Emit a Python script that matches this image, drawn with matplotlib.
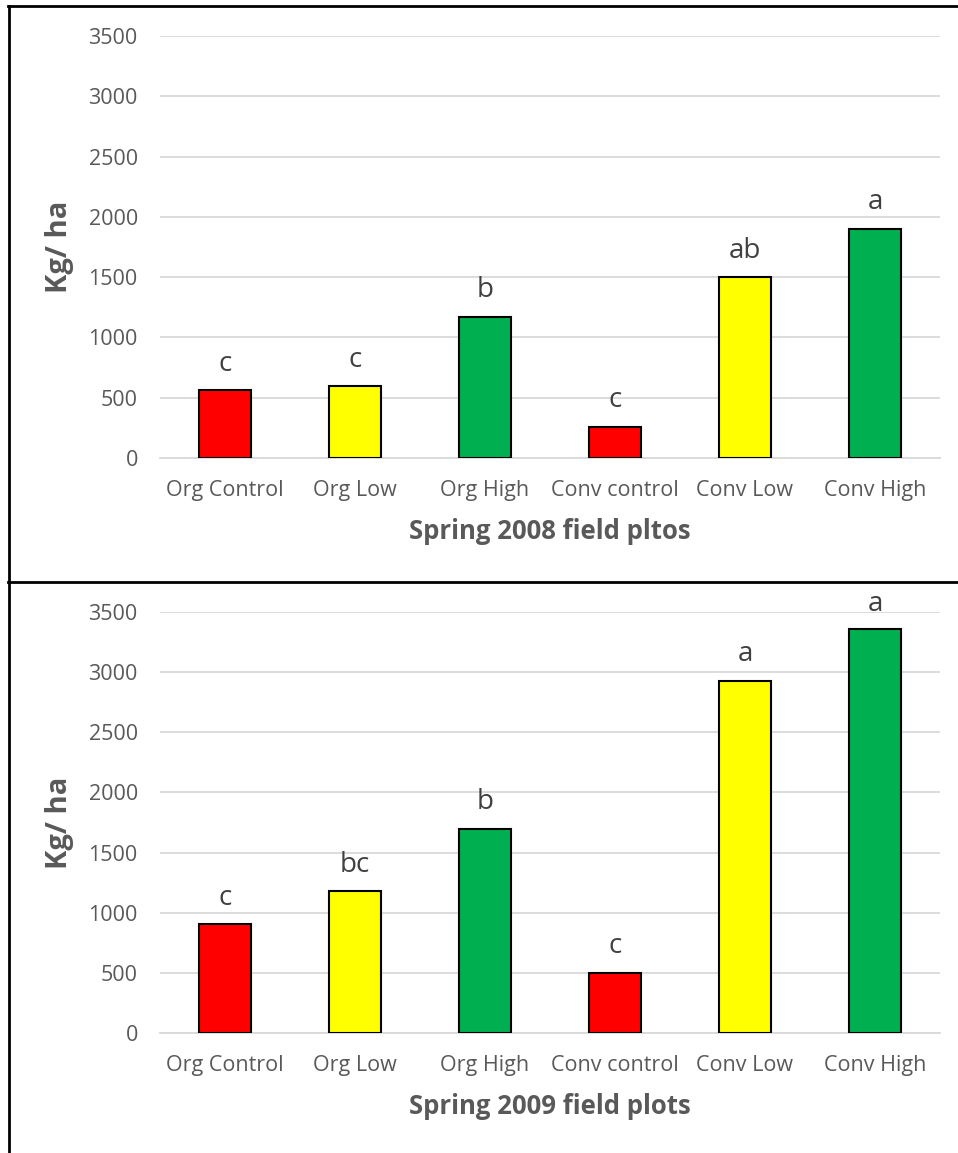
import matplotlib
matplotlib.use("Agg")
import matplotlib.pyplot as plt
from matplotlib.lines import Line2D

categories = ["Org Control", "Org Low", "Org High", "Conv control", "Conv Low", "Conv High"]
yield_2008 = [560, 595, 1170, 260, 1500, 1900]
yield_2009 = [905, 1180, 1700, 500, 2930, 3360]
letters_2008 = ["c", "c", "b", "c", "ab", "a"]
letters_2009 = ["c", "bc", "b", "c", "a", "a"]
bar_colors = ["#FF0000", "#FFFF00", "#00B050", "#FF0000", "#FFFF00", "#00B050"]
titles = ["Spring 2008 field pltos", "Spring 2009 field plots"]

plt.rcParams["font.family"] = ["Open Sans", "DejaVu Sans"]
TXT = "#595959"
GRID = "#d9d9d9"

fig = plt.figure(figsize=(9.58, 11.53), dpi=100)
W, H = 958, 1153


def px_axes(x0, x1, ytop, ybot):
    return fig.add_axes([x0 / W, 1 - ybot / H, (x1 - x0) / W, (ybot - ytop) / H])


panels = [
    (px_axes(160, 940, 36, 458), yield_2008, letters_2008, titles[0]),
    (px_axes(160, 940, 612, 1033), yield_2009, letters_2009, titles[1]),
]

for ax, vals, lets, title in panels:
    x = range(len(categories))
    ax.bar(x, vals, width=0.4, color=bar_colors, edgecolor="black", linewidth=1.5, zorder=3)
    for xi, v, t in zip(x, vals, lets):
        # keep the letter inside the plot area when the bar nearly reaches the top
        off = min(14, max(8, (3500 - v) / 3500 * 422 * 0.72 + 1))
        ax.annotate(t, (xi, v), xytext=(0, off), textcoords="offset points",
                    ha="center", va="baseline", fontsize=20, color="#404040",
                    annotation_clip=False)
    ax.set_xlim(-0.5, len(categories) - 0.5)
    ax.set_ylim(0, 3500)
    ax.set_yticks(range(0, 3501, 500))
    ax.set_xticks(list(x))
    ax.set_xticklabels(categories)
    ax.tick_params(length=0, labelsize=15.5, colors=TXT)
    ax.tick_params(axis="x", pad=16)
    ax.tick_params(axis="y", pad=16)
    ax.grid(axis="y", color=GRID, linewidth=1.3, zorder=0)
    ax.set_axisbelow(True)
    for s in ["top", "right", "left"]:
        ax.spines[s].set_visible(False)
    ax.spines["bottom"].set_color(GRID)
    ax.spines["bottom"].set_linewidth(1.3)
    ax.set_ylabel("Kg/ ha", fontsize=21, fontweight="bold", color=TXT)
    ax.yaxis.set_label_coords(-0.11, 0.5)
    ax.set_xlabel(title, fontsize=18.5, fontweight="bold", color=TXT, labelpad=12)

# frame lines around the two panels
lw = 2.0
fig.add_artist(Line2D([8 / W, 1], [1 - 6 / H, 1 - 6 / H], color="black", linewidth=lw))
fig.add_artist(Line2D([9 / W, 9 / W], [1 - 6 / H, 0], color="black", linewidth=lw))
fig.add_artist(Line2D([8 / W, 1], [1 - 582 / H, 1 - 582 / H], color="black", linewidth=lw))

fig.savefig("out.png", dpi=100)
